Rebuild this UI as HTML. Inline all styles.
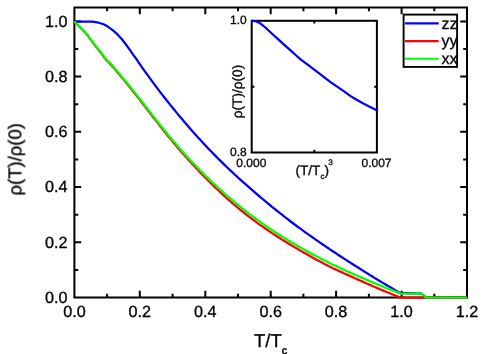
<!DOCTYPE html>
<html><head><meta charset="utf-8"><title>chart</title>
<style>html,body{margin:0;padding:0;background:#fff;width:482px;height:354px;overflow:hidden;font-family:"Liberation Sans",sans-serif}</style></head>
<body>
<svg width="482" height="354" viewBox="0 0 482 354" style="position:absolute;left:0;top:0">
<rect x="0" y="0" width="482" height="354" fill="#fff"/>
<rect x="74.4" y="7.5" width="392.6" height="290.0" fill="none" stroke="#000" stroke-width="2"/>
<path d="M107.1,297.5 v-3.8 M107.1,7.5 v3.8 M139.8,297.5 v-6.8 M139.8,7.5 v6.8 M172.6,297.5 v-3.8 M172.6,7.5 v3.8 M205.3,297.5 v-6.8 M205.3,7.5 v6.8 M238.0,297.5 v-3.8 M238.0,7.5 v3.8 M270.7,297.5 v-6.8 M270.7,7.5 v6.8 M303.4,297.5 v-3.8 M303.4,7.5 v3.8 M336.1,297.5 v-6.8 M336.1,7.5 v6.8 M368.9,297.5 v-3.8 M368.9,7.5 v3.8 M401.6,297.5 v-6.8 M401.6,7.5 v6.8 M434.3,297.5 v-3.8 M434.3,7.5 v3.8 M74.4,269.9 h3.8 M467.0,269.9 h-3.8 M74.4,242.3 h6.8 M467.0,242.3 h-6.8 M74.4,214.7 h3.8 M467.0,214.7 h-3.8 M74.4,187.1 h6.8 M467.0,187.1 h-6.8 M74.4,159.4 h3.8 M467.0,159.4 h-3.8 M74.4,131.8 h6.8 M467.0,131.8 h-6.8 M74.4,104.2 h3.8 M467.0,104.2 h-3.8 M74.4,76.6 h6.8 M467.0,76.6 h-6.8 M74.4,49.0 h3.8 M467.0,49.0 h-3.8 M74.4,21.4 h6.8 M467.0,21.4 h-6.8" stroke="#000" stroke-width="2" fill="none"/>
<path d="M74.4,21.5 L82.5,21.5 L92.4,21.7 L98.6,22.7 L103.6,24.3 L107.4,26.3 L112.3,29.8 L117.3,34.2 L122.3,39.8 L126.0,44.5 L130.0,50.1 L133.1,54.6 L137.3,60.2 L138.0,61.6 L140.0,64.4 L142.0,67.3 L144.0,70.1 L146.0,72.9 L148.0,75.7 L150.0,78.4 L152.0,81.1 L154.0,83.8 L156.0,86.5 L158.0,89.1 L160.0,91.8 L162.0,94.4 L164.0,97.0 L166.0,99.5 L168.0,102.0 L170.0,104.6 L172.0,107.0 L174.0,109.5 L176.0,111.9 L178.0,114.4 L180.0,116.8 L182.0,119.1 L184.0,121.5 L186.0,123.8 L188.0,126.1 L190.0,128.4 L192.0,130.7 L194.0,133.0 L196.0,135.2 L198.0,137.4 L200.0,139.6 L202.0,141.8 L204.0,143.9 L206.0,146.1 L208.0,148.2 L210.0,150.3 L212.0,152.3 L214.0,154.4 L216.0,156.4 L218.0,158.5 L220.0,160.4 L222.0,162.4 L224.0,164.4 L226.0,166.3 L228.0,168.2 L230.0,170.1 L232.0,171.9 L234.0,173.8 L236.0,175.6 L238.0,177.5 L240.0,179.3 L242.0,181.1 L244.0,182.9 L246.0,184.6 L248.0,186.4 L250.0,188.2 L252.0,189.9 L254.0,191.7 L256.0,193.4 L258.0,195.1 L260.0,196.8 L262.0,198.5 L264.0,200.2 L266.0,201.8 L268.0,203.5 L270.0,205.1 L272.0,206.8 L274.0,208.4 L276.0,210.0 L278.0,211.6 L280.0,213.2 L282.0,214.7 L284.0,216.3 L286.0,217.9 L288.0,219.4 L290.0,221.0 L292.0,222.5 L294.0,224.0 L296.0,225.5 L298.0,227.0 L300.0,228.4 L302.0,229.9 L304.0,231.3 L306.0,232.8 L308.0,234.2 L310.0,235.6 L312.0,237.0 L314.0,238.4 L316.0,239.8 L318.0,241.2 L320.0,242.6 L322.0,244.0 L324.0,245.3 L326.0,246.7 L328.0,248.0 L330.0,249.4 L332.0,250.7 L334.0,252.0 L336.0,253.3 L338.0,254.7 L340.0,256.0 L342.0,257.3 L344.0,258.6 L346.0,259.9 L348.0,261.2 L350.0,262.4 L352.0,263.7 L354.0,265.0 L356.0,266.3 L358.0,267.5 L360.0,268.8 L362.0,270.1 L364.0,271.3 L366.0,272.6 L368.0,273.8 L370.0,275.1 L372.0,276.3 L374.0,277.6 L376.0,278.8 L378.0,280.0 L380.0,281.2 L382.0,282.4 L384.0,283.6 L386.0,284.7 L388.0,285.9 L390.0,287.1 L392.0,288.2 L394.0,289.4 L396.0,290.6 L398.0,291.8 L399.8,292.9 L421.5,293.7 L426.4,297.6 L467.0,297.6" stroke="#0000ff" stroke-width="2.25" fill="none" stroke-linejoin="round"/>
<path d="M74.4,21.5 L80.0,27.2 L86.2,33.5 L89.9,38.6 L94.9,45.3 L99.9,51.5 L105.1,58.5 L106.5,60.6 L108.0,61.4 L110.0,63.7 L112.0,65.9 L114.0,68.2 L116.0,70.6 L118.0,72.9 L120.0,75.3 L122.0,77.7 L124.0,80.1 L126.0,82.6 L128.0,85.0 L130.0,87.5 L132.0,90.0 L134.0,92.5 L136.0,95.0 L138.0,97.6 L140.0,100.1 L142.0,102.7 L144.0,105.3 L146.0,107.9 L148.0,110.5 L150.0,113.1 L152.0,115.7 L154.0,118.3 L156.0,120.8 L158.0,123.4 L160.0,126.0 L162.0,128.5 L164.0,131.0 L166.0,133.5 L168.0,136.0 L170.0,138.4 L172.0,140.8 L174.0,143.2 L176.0,145.6 L178.0,147.9 L180.0,150.2 L182.0,152.5 L184.0,154.8 L186.0,157.0 L188.0,159.2 L190.0,161.4 L192.0,163.6 L194.0,165.7 L196.0,167.9 L198.0,170.0 L200.0,172.1 L202.0,174.1 L204.0,176.2 L206.0,178.2 L208.0,180.2 L210.0,182.2 L212.0,184.2 L214.0,186.1 L216.0,188.1 L218.0,190.0 L220.0,191.9 L222.0,193.8 L224.0,195.6 L226.0,197.5 L228.0,199.3 L230.0,201.0 L232.0,202.8 L234.0,204.5 L236.0,206.2 L238.0,207.8 L240.0,209.5 L242.0,211.1 L244.0,212.7 L246.0,214.3 L248.0,215.9 L250.0,217.4 L252.0,218.9 L254.0,220.4 L256.0,221.9 L258.0,223.4 L260.0,224.8 L262.0,226.2 L264.0,227.6 L266.0,229.0 L268.0,230.4 L270.0,231.8 L272.0,233.1 L274.0,234.4 L276.0,235.7 L278.0,237.0 L280.0,238.3 L282.0,239.6 L284.0,240.8 L286.0,242.0 L288.0,243.3 L290.0,244.5 L292.0,245.7 L294.0,246.9 L296.0,248.1 L298.0,249.2 L300.0,250.4 L302.0,251.6 L304.0,252.7 L306.0,253.8 L308.0,255.0 L310.0,256.1 L312.0,257.2 L314.0,258.3 L316.0,259.4 L318.0,260.5 L320.0,261.6 L322.0,262.6 L324.0,263.7 L326.0,264.7 L328.0,265.7 L330.0,266.7 L332.0,267.7 L334.0,268.7 L336.0,269.6 L338.0,270.6 L340.0,271.5 L342.0,272.4 L344.0,273.3 L346.0,274.2 L348.0,275.1 L350.0,276.0 L352.0,276.9 L354.0,277.8 L356.0,278.7 L358.0,279.6 L360.0,280.5 L362.0,281.4 L364.0,282.3 L366.0,283.2 L368.0,284.0 L370.0,284.9 L372.0,285.8 L374.0,286.7 L376.0,287.5 L378.0,288.4 L380.0,289.2 L382.0,290.1 L384.0,290.9 L386.0,291.7 L388.0,292.5 L390.0,293.3 L392.0,294.2 L394.0,295.0 L396.0,295.8 L398.0,296.6 L400.0,297.5 L399.0,297.6 L467.0,297.6" stroke="#ff0000" stroke-width="2.25" fill="none" stroke-linejoin="round"/>
<path d="M74.4,21.5 L80.0,27.1 L86.2,33.3 L89.9,38.3 L94.9,44.9 L99.9,51.1 L105.1,58.0 L106.5,60.1 L108.0,60.9 L110.0,63.1 L112.0,65.3 L114.0,67.6 L116.0,69.9 L118.0,72.3 L120.0,74.6 L122.0,77.0 L124.0,79.4 L126.0,81.8 L128.0,84.2 L130.0,86.7 L132.0,89.1 L134.0,91.6 L136.0,94.1 L138.0,96.7 L140.0,99.2 L142.0,101.7 L144.0,104.3 L146.0,106.9 L148.0,109.4 L150.0,112.0 L152.0,114.6 L154.0,117.1 L156.0,119.7 L158.0,122.2 L160.0,124.8 L162.0,127.3 L164.0,129.8 L166.0,132.2 L168.0,134.7 L170.0,137.1 L172.0,139.4 L174.0,141.8 L176.0,144.1 L178.0,146.4 L180.0,148.7 L182.0,151.0 L184.0,153.2 L186.0,155.4 L188.0,157.6 L190.0,159.7 L192.0,161.9 L194.0,164.0 L196.0,166.0 L198.0,168.1 L200.0,170.2 L202.0,172.2 L204.0,174.2 L206.0,176.2 L208.0,178.1 L210.0,180.0 L212.0,182.0 L214.0,183.9 L216.0,185.7 L218.0,187.6 L220.0,189.4 L222.0,191.2 L224.0,193.0 L226.0,194.8 L228.0,196.5 L230.0,198.2 L232.0,199.9 L234.0,201.6 L236.0,203.3 L238.0,204.9 L240.0,206.5 L242.0,208.2 L244.0,209.7 L246.0,211.3 L248.0,212.9 L250.0,214.4 L252.0,215.9 L254.0,217.4 L256.0,218.9 L258.0,220.4 L260.0,221.8 L262.0,223.2 L264.0,224.6 L266.0,226.0 L268.0,227.4 L270.0,228.8 L272.0,230.1 L274.0,231.4 L276.0,232.7 L278.0,234.0 L280.0,235.3 L282.0,236.6 L284.0,237.8 L286.0,239.0 L288.0,240.3 L290.0,241.5 L292.0,242.7 L294.0,243.8 L296.0,245.0 L298.0,246.2 L300.0,247.3 L302.0,248.4 L304.0,249.6 L306.0,250.7 L308.0,251.8 L310.0,252.9 L312.0,254.0 L314.0,255.0 L316.0,256.1 L318.0,257.1 L320.0,258.2 L322.0,259.2 L324.0,260.2 L326.0,261.2 L328.0,262.2 L330.0,263.2 L332.0,264.2 L334.0,265.2 L336.0,266.1 L338.0,267.1 L340.0,268.0 L342.0,269.0 L344.0,269.9 L346.0,270.8 L348.0,271.7 L350.0,272.6 L352.0,273.5 L354.0,274.4 L356.0,275.3 L358.0,276.1 L360.0,277.0 L362.0,277.9 L364.0,278.7 L366.0,279.6 L368.0,280.4 L370.0,281.3 L372.0,282.1 L374.0,282.9 L376.0,283.8 L378.0,284.6 L380.0,285.4 L382.0,286.2 L384.0,287.1 L386.0,287.9 L388.0,288.7 L390.0,289.4 L392.0,290.2 L394.0,291.0 L396.0,291.8 L398.0,292.6 L400.0,293.5 L400.6,293.7 L421.5,293.7 L426.4,297.6 L467.0,297.6" stroke="#00ff00" stroke-width="2.25" fill="none" stroke-linejoin="round"/>
<rect x="251.7" y="20.8" width="125.19999999999999" height="131.7" fill="none" stroke="#000" stroke-width="2"/>
<path d="M314.3,20.8 v2.7 M314.3,152.5 v-2.7 M251.7,86.8 h2.7 M376.9,86.8 h-2.7" stroke="#000" stroke-width="2" fill="none"/>
<path d="M251.1,20.8 L255.5,21.2 L259.2,22.7 L262.9,25.5 L266.7,28.7 L272.9,34.5 L279.1,40.2 L285.4,45.8 L290.0,49.9 L296.2,55.5 L301.2,59.8 L308.7,65.4 L314.9,70.2 L321.1,74.8 L325.3,78.1 L331.2,82.6 L337.5,86.9 L343.7,91.2 L349.9,95.6 L354.9,98.8 L362.4,102.9 L368.6,106.2 L377.8,110.8" stroke="#0000ff" stroke-width="2.25" fill="none" stroke-linejoin="round"/>
<rect x="403.6" y="14.6" width="53.5" height="52.3" fill="#fff" stroke="#000" stroke-width="1.9"/>
<path d="M405,23.4 H438.7" stroke="#0000ff" stroke-width="2.1" fill="none"/>
<path d="M405,41.1 H438.7" stroke="#ff0000" stroke-width="2.1" fill="none"/>
<path d="M405,58.8 H438.7" stroke="#00ff00" stroke-width="2.1" fill="none"/>
<g stroke="#000" stroke-width="0.3" style="text-rendering:geometricPrecision;filter:grayscale(1)">
<text x="441.6" y="28.6" font-family="Liberation Sans, sans-serif" font-size="16">zz</text>
<text x="441.6" y="46.3" font-family="Liberation Sans, sans-serif" font-size="16">yy</text>
<text x="441.6" y="64.0" font-family="Liberation Sans, sans-serif" font-size="16">xx</text>
<text x="74.4" y="317.1" font-family="Liberation Sans, sans-serif" font-size="16.2" text-anchor="middle">0.0</text>
<text x="139.8" y="317.1" font-family="Liberation Sans, sans-serif" font-size="16.2" text-anchor="middle">0.2</text>
<text x="205.3" y="317.1" font-family="Liberation Sans, sans-serif" font-size="16.2" text-anchor="middle">0.4</text>
<text x="270.7" y="317.1" font-family="Liberation Sans, sans-serif" font-size="16.2" text-anchor="middle">0.6</text>
<text x="336.1" y="317.1" font-family="Liberation Sans, sans-serif" font-size="16.2" text-anchor="middle">0.8</text>
<text x="401.6" y="317.1" font-family="Liberation Sans, sans-serif" font-size="16.2" text-anchor="middle">1.0</text>
<text x="467.0" y="317.1" font-family="Liberation Sans, sans-serif" font-size="16.2" text-anchor="middle">1.2</text>
<text x="67.6" y="302.7" font-family="Liberation Sans, sans-serif" font-size="16.2" text-anchor="end">0.0</text>
<text x="67.6" y="247.5" font-family="Liberation Sans, sans-serif" font-size="16.2" text-anchor="end">0.2</text>
<text x="67.6" y="192.3" font-family="Liberation Sans, sans-serif" font-size="16.2" text-anchor="end">0.4</text>
<text x="67.6" y="137.0" font-family="Liberation Sans, sans-serif" font-size="16.2" text-anchor="end">0.6</text>
<text x="67.6" y="81.8" font-family="Liberation Sans, sans-serif" font-size="16.2" text-anchor="end">0.8</text>
<text x="67.6" y="26.6" font-family="Liberation Sans, sans-serif" font-size="16.2" text-anchor="end">1.0</text>
<text transform="translate(21.3,159.3) rotate(-90)" font-family="Liberation Sans, sans-serif" font-size="18.5" text-anchor="middle">ρ(T)/ρ(0)</text>
<text x="254" y="346.7" font-family="Liberation Sans, sans-serif" font-size="18.5">T/T<tspan font-size="10.8" dy="7.1" stroke-width="0.5">c</tspan></text>
<text x="246.8" y="24.3" font-family="Liberation Sans, sans-serif" font-size="12" text-anchor="end">1.0</text>
<text x="246.8" y="156.4" font-family="Liberation Sans, sans-serif" font-size="12" text-anchor="end">0.8</text>
<text x="251.3" y="167.1" font-family="Liberation Sans, sans-serif" font-size="12" text-anchor="middle">0.000</text>
<text x="376.5" y="167.1" font-family="Liberation Sans, sans-serif" font-size="12" text-anchor="middle">0.007</text>
<text transform="translate(242.4,91.5) rotate(-90)" font-family="Liberation Sans, sans-serif" font-size="13.7" text-anchor="middle">ρ(T)/ρ(0)</text>
<text x="295.4" y="174.5" font-family="Liberation Sans, sans-serif" font-size="13.7">(T/T<tspan font-size="8" dy="4">c</tspan><tspan dy="-4">)</tspan><tspan font-size="8.2" dy="-9.2" dx="-0.7">3</tspan></text>
</g>
</svg>
</body></html>
